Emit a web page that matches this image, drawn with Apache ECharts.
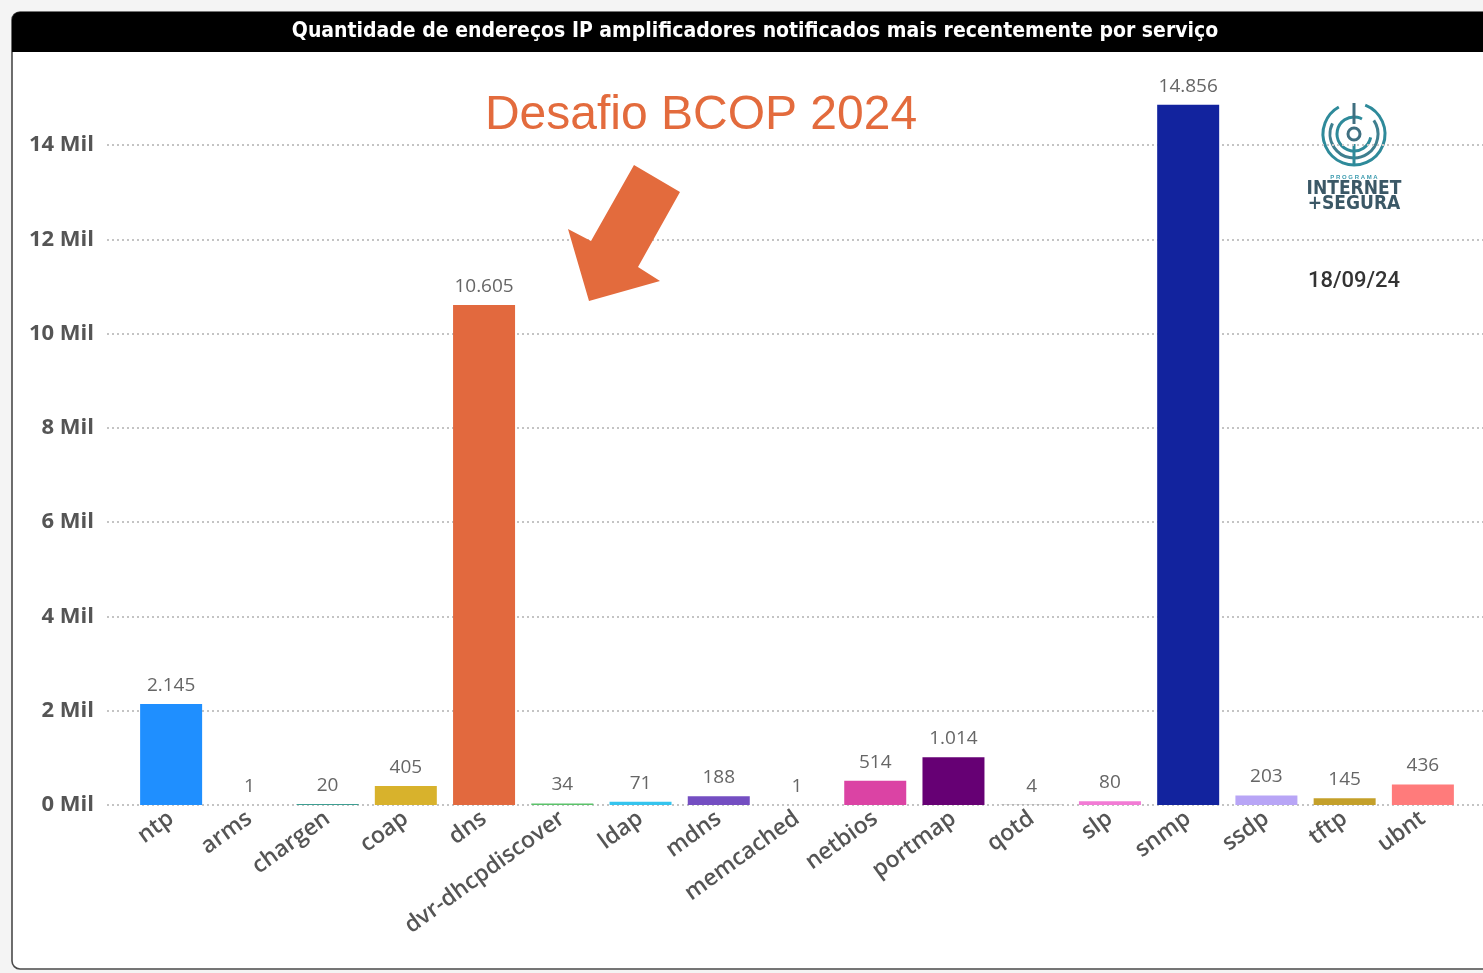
<!DOCTYPE html>
<html><head><meta charset="utf-8">
<script src="https://cdn.jsdelivr.net/npm/echarts@6/dist/echarts.min.js"></script>
<style>html,body{margin:0;padding:0;background:#f4f4f4}#c{width:1483px;height:973px}</style>
</head><body><div id="c"></div>
<script>
const categories = ['ntp','arms','chargen','coap','dns','dvr-dhcpdiscover','ldap','mdns','memcached','netbios','portmap','qotd','slp','snmp','ssdp','tftp','ubnt'];
const values = [2145,1,20,405,10605,34,71,188,1,514,1014,4,80,14856,203,145,436];
const barColors = ['#1F8FFF','#8a8a8a','#3E9E92','#D8B22C','#E2693E','#5BC26A','#35C4EE','#744EC2','#999999','#DB43A4','#660074','#888888','#F27BD5','#12239E','#B8A5F6','#C4A02A','#FF7B7B'];
const yTicks = [0,2000,4000,6000,8000,10000,12000,14000];
const title = 'Quantidade de endereços IP amplificadores notificados mais recentemente por serviço';
const annotation = 'Desafio BCOP 2024';
const dateText = '18/09/24';

function fmt(v){return String(v).replace(/\B(?=(\d{3})+(?!\d))/g,'.');}

const chart = echarts.init(document.getElementById('c'));
const yMax = yTicks[yTicks.length-1], yStep = yTicks[1]-yTicks[0];
chart.setOption({
  animation:false,
  backgroundColor:'#f4f4f4',
  graphic:[
    {type:'rect',z:-10,shape:{x:12,y:12,width:1490,height:957,r:8},style:{fill:'#ffffff',stroke:'#4a4a4a',lineWidth:1.6}},
    {type:'rect',z:-9,shape:{x:12,y:12,width:1490,height:40,r:[8,0,0,0]},style:{fill:'#000000'}},
    {type:'text',z:5,x:755,y:32,style:{text:title,fill:'#ffffff',font:'bold 21px "DejaVu Sans Condensed", sans-serif',align:'center',verticalAlign:'middle'}},
    {type:'text',z:5,x:701,y:116,style:{text:annotation,fill:'#E36B3D',font:'48px "Liberation Sans", Arial, sans-serif',align:'center',verticalAlign:'middle'}},
    {type:'polygon',z:5,shape:{points:[[634,165],[680,192],[638,267],[660,281],[589,301],[568,229],[591,241]]},style:{fill:'#E36B3D'}},
    {type:'text',z:5,x:1354,y:281,style:{text:dateText,fill:'#333333',font:'500 22px Roboto, sans-serif',align:'center',verticalAlign:'middle'}},
    // logo
    {type:'group',z:5,x:1354,y:134,children:[
      {type:'arc',shape:{cx:0,cy:0,r:31,startAngle:-1.2,endAngle:4.2},style:{stroke:'#2E8A9A',lineWidth:3,fill:null}},
      {type:'arc',shape:{cx:0,cy:0,r:24,startAngle:-0.6,endAngle:3.6},style:{stroke:'#3F7F8F',lineWidth:3,fill:null}},
      {type:'arc',shape:{cx:0,cy:0,r:17,startAngle:0.2,endAngle:5.2},style:{stroke:'#2E8A9A',lineWidth:3,fill:null}},
      {type:'circle',shape:{cx:0,cy:0,r:6},style:{stroke:'#3F6F80',lineWidth:3,fill:null}},
      {type:'line',shape:{x1:0,y1:-31,x2:0,y2:-10},style:{stroke:'#3F6F80',lineWidth:3}},
      {type:'line',shape:{x1:0,y1:10,x2:0,y2:31},style:{stroke:'#2E8A9A',lineWidth:3}}
    ]},
    {type:'text',z:5,x:1354,y:177,style:{text:'P R O G R A M A',fill:'#3A9AAE',font:'bold 6px sans-serif',align:'center',verticalAlign:'middle'}},
    {type:'text',z:5,x:1354,y:189,style:{text:'INTERNET',fill:'#3B5866',font:'bold 19px "DejaVu Sans Condensed", sans-serif',align:'center',verticalAlign:'middle'}},
    {type:'text',z:5,x:1354,y:204,style:{text:'+SEGURA',fill:'#3B5866',font:'bold 19px "DejaVu Sans Condensed", sans-serif',align:'center',verticalAlign:'middle'}}
  ],
  grid:[
    {left:132,right:21,top:145,bottom:168},
    {left:107,right:0,top:145,bottom:168}
  ],
  xAxis:[
    {type:'category',gridIndex:0,data:categories,axisLine:{show:false},axisTick:{show:false},
     axisLabel:{rotate:36,interval:0,margin:11,color:'#555555',fontSize:23,fontWeight:600,fontFamily:'"Open Sans", sans-serif'}},
    {type:'category',gridIndex:1,data:[''],show:false}
  ],
  yAxis:[
    {type:'value',gridIndex:0,min:0,max:yMax,interval:yStep,show:false,splitLine:{show:false}},
    {type:'value',gridIndex:1,min:0,max:yMax,interval:yStep,axisLine:{show:false},axisTick:{show:false},
     splitLine:{show:true,lineStyle:{color:'#c4c4c4',width:2,type:[2,3]}},
     axisLabel:{margin:13,color:'#555555',fontSize:22,fontWeight:'bold',fontFamily:'"Open Sans", sans-serif',
       formatter:v=>(v/1000)+' Mil'}}
  ],
  series:[{
    type:'bar',xAxisIndex:0,yAxisIndex:0,clip:false,barWidth:62,z:3,
    data:values.map((v,i)=>({value:v,itemStyle:{color:barColors[i]}})),
    label:{show:true,position:'top',distance:9,color:'#666666',fontSize:19,fontFamily:'"Open Sans", sans-serif',formatter:p=>fmt(p.value)}
  }]
});
</script></body></html>
